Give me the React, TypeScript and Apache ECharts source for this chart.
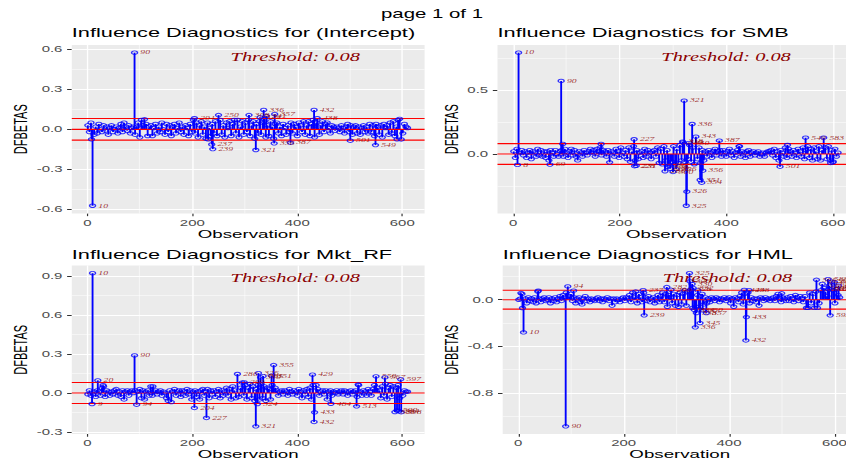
import React, { useEffect, useRef } from "react";
import * as echarts from "echarts";

// ---------------- data ----------------
const N_OBS = 612;
const BASE_START = 1;
const BASE_STEP = 3;

const coefNames = ["(Intercept)", "SMB", "Mkt_RF", "HML"];

// DFBETAS read at observations 1, 4, 7, ..., 610
const interceptBase = [
  0.03, -0.02, 0.05, 0.01, -0.04, 0.02, -0.03, 0.04, 0.0, -0.02,
  0.03, -0.01, 0.02, -0.04, 0.01, 0.03, -0.02, 0.0, 0.02, -0.03,
  0.01, 0.04, -0.02, 0.05, 0.02, -0.01, 0.03, -0.03, 0.01, 0.02,
  -0.04, 0.02, 0.05, -0.06, 0.07, 0.03, -0.02, 0.04, -0.05, 0.02,
  0.03, -0.05, 0.01, 0.04, -0.03, 0.02, -0.02, 0.05, 0.0, -0.04,
  0.04, -0.02, 0.03, -0.05, 0.02, 0.04, -0.03, 0.01, 0.05, -0.02,
  0.02, -0.04, 0.03, 0.01, -0.05, 0.04, -0.02, 0.07, -0.03, 0.05,
  -0.06, 0.03, 0.06, -0.04, 0.02, -0.07, 0.05, 0.01, -0.05, 0.04,
  -0.03, 0.06, -0.05, 0.02, 0.07, -0.04, 0.03, -0.06, 0.05, 0.01,
  0.06, -0.05, 0.04, 0.07, -0.03, 0.05, -0.06, 0.02, 0.06, -0.04,
  0.05, -0.02, 0.07, -0.05, 0.03, 0.06, -0.07, 0.04, -0.03, 0.06,
  -0.04, 0.05, 0.08, -0.06, 0.03, -0.05, 0.06, 0.02, -0.07, 0.04,
  0.05, -0.03, 0.02, -0.05, 0.04, 0.01, -0.04, 0.03, -0.02, 0.05,
  -0.03, 0.04, 0.02, -0.05, 0.05, 0.03, -0.02, 0.06, -0.04, 0.03,
  0.06, -0.05, 0.04, 0.07, -0.03, 0.05, 0.02, -0.04, 0.03, 0.06,
  -0.02, 0.04, 0.05, 0.01, -0.03, 0.03, 0.02, -0.01, 0.02, 0.01,
  -0.02, 0.03, 0.01, -0.03, 0.02, 0.04, -0.02, 0.03, -0.04, 0.02,
  0.03, -0.03, 0.02, -0.04, 0.01, 0.03, -0.02, 0.02, -0.03, 0.04,
  -0.02, 0.03, -0.05, 0.04, 0.02, -0.04, 0.03, -0.06, 0.04, 0.01,
  0.03, -0.04, 0.05, -0.03, 0.06, -0.05, 0.02, 0.07, -0.04, 0.05,
  -0.03, 0.04, 0.02, 0.01,
];
const interceptOutliers = [
  [8, -0.075], [10, -0.573], [90, 0.575], [109, 0.075], [204, 0.083],
  [230, -0.075], [237, -0.113], [239, -0.148], [250, 0.107], [286, 0.07],
  [308, 0.107], [321, -0.155], [329, 0.09], [336, 0.145], [341, 0.1],
  [356, -0.105], [357, 0.114], [387, -0.1], [432, 0.145], [433, -0.06],
  [438, 0.083], [501, -0.085], [549, -0.118], [590, -0.075], [595, 0.078],
  [598, -0.076],
];

const smbBase = [
  0.02, -0.03, 0.04, -0.02, 0.01, 0.03, -0.01, 0.02, -0.03, 0.01,
  0.03, -0.04, 0.02, 0.01, -0.02, 0.04, -0.01, 0.03, -0.02, 0.02,
  -0.03, 0.02, -0.05, 0.03, 0.01, -0.02, 0.03, 0.0, -0.02, 0.02,
  0.03, -0.02, 0.04, 0.01, -0.03, 0.02, 0.04, -0.01, 0.03, -0.02,
  -0.05, 0.02, 0.01, -0.02, 0.03, 0.01, -0.01, 0.02, 0.04, 0.01,
  0.03, -0.02, 0.04, 0.02, 0.05, -0.01, 0.03, 0.02, -0.02, 0.03,
  -0.06, 0.02, 0.01, -0.02, 0.04, 0.02, -0.03, 0.05, 0.01, -0.02,
  0.03, -0.04, 0.05, -0.06, 0.02, 0.06, -0.05, 0.03, -0.04, 0.01,
  0.02, -0.03, 0.04, -0.02, 0.03, 0.01, -0.04, 0.02, 0.03, -0.02,
  0.05, -0.07, 0.04, -0.08, 0.06, -0.05, 0.03, -0.09, 0.05, -0.06,
  0.06, -0.08, 0.04, -0.07, 0.07, -0.05, 0.09, -0.06, 0.08, -0.04,
  0.07, -0.06, 0.05, -0.08, 0.06, -0.04, 0.05, -0.07, 0.03, -0.05,
  0.02, -0.02, 0.03, 0.01, -0.03, 0.02, 0.04, -0.01, 0.02, 0.03,
  -0.02, 0.03, 0.01, -0.02, 0.02, 0.04, -0.01, 0.02, -0.03, 0.01,
  0.03, 0.06, -0.02, 0.02, 0.01, -0.03, 0.02, 0.03, -0.02, 0.01,
  0.02, -0.01, 0.01, 0.02, -0.02, 0.0, 0.01, -0.02, 0.01, 0.02,
  0.02, 0.03, -0.01, 0.04, -0.03, 0.02, -0.05, 0.03, 0.01, -0.02,
  0.05, -0.03, 0.04, 0.02, -0.02, 0.03, 0.01, -0.03, 0.04, 0.02,
  -0.02, 0.05, -0.04, 0.03, 0.06, -0.03, 0.04, -0.05, 0.05, 0.02,
  -0.04, 0.06, -0.05, 0.03, -0.06, 0.05, -0.04, 0.06, -0.05, 0.03,
  -0.06, 0.04, -0.02, 0.01,
];
const smbOutliers = [
  [8, -0.085], [10, 0.791], [69, -0.083], [90, 0.57], [93, 0.078],
  [165, 0.078], [181, -0.065], [227, 0.115], [228, -0.095], [231, -0.092],
  [285, -0.135], [290, -0.1], [295, -0.115], [300, -0.14], [306, -0.118],
  [318, 0.096], [321, 0.416], [325, -0.404], [326, -0.294], [330, 0.085],
  [336, 0.234], [343, 0.135], [351, -0.203], [354, -0.224], [356, -0.13],
  [387, 0.104], [425, 0.06], [501, -0.099], [515, 0.07], [549, 0.127],
  [583, 0.127], [596, -0.07], [600, -0.065],
];

const mktBase = [
  -0.01, 0.02, -0.02, 0.03, 0.01, -0.03, 0.02, 0.01, -0.02, 0.04,
  0.05, -0.03, 0.02, 0.01, -0.02, 0.01, -0.01, 0.02, 0.03, -0.02,
  0.01, -0.03, 0.02, -0.05, 0.01, 0.02, -0.02, 0.01, 0.02, 0.0,
  0.02, -0.03, 0.01, 0.03, -0.04, 0.02, -0.05, 0.01, 0.02, -0.02,
  0.05, -0.02, 0.01, 0.02, -0.01, 0.01, 0.02, -0.02, 0.01, 0.0,
  -0.04, -0.06, 0.02, -0.07, 0.01, 0.03, -0.02, 0.01, 0.02, -0.03,
  0.02, 0.01, -0.02, 0.03, -0.01, 0.02, -0.05, 0.01, 0.02, -0.03,
  0.01, -0.05, 0.02, 0.03, -0.02, 0.01, 0.03, -0.04, 0.02, -0.01,
  0.02, -0.03, 0.01, 0.03, -0.04, 0.02, -0.02, 0.01, 0.04, -0.02,
  0.03, -0.05, 0.05, 0.02, -0.04, 0.06, -0.03, 0.04, 0.08, -0.02,
  0.06, -0.05, 0.04, 0.07, -0.04, 0.05, -0.06, 0.03, 0.06, -0.05,
  0.07, -0.04, 0.05, -0.06, 0.04, 0.03, -0.05, 0.06, -0.03, 0.04,
  0.02, -0.02, 0.01, 0.02, -0.01, 0.02, 0.01, -0.02, 0.03, 0.01,
  -0.01, 0.02, 0.01, -0.02, 0.03, 0.01, -0.04, 0.02, -0.01, 0.03,
  -0.03, 0.04, -0.05, 0.06, 0.02, -0.04, 0.03, -0.02, 0.01, 0.02,
  -0.01, 0.02, -0.05, 0.01, 0.02, -0.02, 0.01, 0.0, 0.02, -0.01,
  0.01, 0.02, -0.01, 0.02, 0.01, -0.02, 0.01, 0.02, -0.01, 0.01,
  0.02, -0.03, 0.06, 0.01, -0.02, 0.02, 0.01, -0.02, 0.03, 0.01,
  -0.02, 0.03, 0.06, -0.03, 0.04, 0.02, -0.04, 0.05, -0.02, 0.07,
  -0.05, 0.04, 0.06, -0.03, 0.05, -0.06, 0.04, 0.06, -0.04, 0.03,
  -0.02, 0.02, 0.01, 0.01,
];
const mktOutliers = [
  [9, -0.085], [10, 0.923], [20, 0.097], [30, 0.06], [90, 0.289],
  [94, -0.09], [125, 0.05], [204, -0.115], [227, -0.192], [286, 0.146],
  [299, 0.081], [321, -0.257], [324, -0.085], [326, 0.153], [330, 0.12],
  [335, 0.13], [351, 0.133], [355, 0.215], [429, 0.141], [432, -0.223],
  [433, -0.149], [436, 0.06], [464, -0.083], [513, -0.103], [516, 0.065],
  [550, 0.128], [567, 0.12], [586, -0.147], [590, -0.135], [594, -0.14],
  [597, 0.105], [598, -0.148],
];

const hmlBase = [
  0.0, 0.01, 0.05, -0.02, 0.01, -0.03, 0.02, -0.01, 0.01, -0.02,
  0.02, -0.03, 0.07, 0.01, -0.02, 0.01, 0.02, -0.01, 0.0, 0.02,
  -0.03, 0.01, -0.01, 0.02, -0.02, 0.01, 0.03, -0.01, 0.04, 0.02,
  0.06, -0.02, 0.03, 0.05, -0.01, 0.02, -0.03, 0.01, 0.02, -0.02,
  -0.04, 0.01, 0.03, -0.01, 0.01, -0.02, 0.01, 0.0, -0.01, 0.01,
  0.02, -0.01, 0.01, -0.02, 0.01, 0.0, 0.02, -0.01, 0.01, -0.05,
  0.01, -0.02, 0.01, 0.0, -0.02, 0.01, 0.02, -0.01, 0.02, 0.01,
  0.04, -0.02, 0.06, 0.02, 0.07, -0.03, 0.05, 0.02, -0.02, 0.06,
  0.02, -0.01, 0.03, -0.02, 0.01, 0.02, -0.03, 0.01, 0.04, -0.02,
  0.03, 0.06, -0.02, 0.05, -0.06, 0.04, 0.02, -0.03, 0.05, -0.05,
  0.04, -0.06, 0.06, -0.04, 0.05, 0.08, -0.05, 0.07, -0.06, 0.09,
  -0.07, 0.05, -0.06, 0.04, -0.08, 0.03, 0.05, -0.04, 0.02, -0.03,
  0.01, -0.02, 0.02, 0.01, -0.01, 0.02, 0.01, -0.02, 0.01, 0.0,
  0.02, -0.01, 0.01, 0.02, -0.03, 0.01, -0.06, 0.02, 0.01, -0.02,
  0.03, 0.06, -0.04, 0.05, 0.02, 0.06, -0.03, 0.02, -0.01, 0.01,
  -0.02, 0.01, -0.05, 0.02, 0.01, -0.01, 0.02, 0.0, 0.01, -0.01,
  0.01, 0.02, -0.01, 0.03, 0.05, 0.01, -0.02, 0.02, 0.01, -0.01,
  0.02, -0.01, 0.03, 0.01, -0.02, 0.04, 0.02, -0.01, 0.03, 0.01,
  -0.02, 0.03, -0.07, 0.04, 0.06, -0.03, 0.05, -0.07, 0.07, 0.04,
  -0.03, 0.08, 0.05, -0.04, 0.07, 0.03, 0.09, -0.02, 0.06, 0.08,
  -0.03, 0.07, 0.04, 0.02,
];
const hmlOutliers = [
  [5, 0.057], [8, -0.071], [10, -0.28], [38, 0.077], [90, -1.086],
  [94, 0.114], [105, 0.078], [237, 0.082], [239, -0.134], [282, 0.109],
  [290, 0.085], [325, 0.228], [326, 0.157], [330, 0.135], [332, 0.1],
  [334, -0.086], [336, -0.237], [338, -0.114], [341, 0.08], [345, -0.2],
  [350, -0.09], [357, -0.114], [429, 0.084], [432, -0.349], [433, -0.149],
  [438, 0.082], [500, 0.055], [550, -0.07], [566, 0.171], [568, -0.07],
  [577, 0.135], [580, 0.1], [588, 0.177], [590, 0.12], [592, -0.134],
  [595, 0.155], [600, 0.15], [604, 0.09], [608, 0.12],
];

const xTicks = [0, 200, 400, 600];
const interceptYTicks = [-0.6, -0.3, 0, 0.3, 0.6];
const smbYTicks = [-0.5, 0, 0.5];
const mktYTicks = [-0.3, 0, 0.3, 0.6, 0.9];
const hmlYTicks = [-1.2, -0.8, -0.4, 0, 0.4];

const panelData = [
  { name: coefNames[0], base: interceptBase, outliers: interceptOutliers, yTicks: interceptYTicks },
  { name: coefNames[1], base: smbBase, outliers: smbOutliers, yTicks: smbYTicks },
  { name: coefNames[2], base: mktBase, outliers: mktOutliers, yTicks: mktYTicks },
  { name: coefNames[3], base: hmlBase, outliers: hmlOutliers, yTicks: hmlYTicks },
];

// ---------------- layout & style ----------------
const SX = 1.7; // the reference is stretched horizontally
const CANVAS_W = 506;
const CANVAS_H = 459;
const ox = (v: number) => v / SX;

const layout = [
  { left: ox(71.8), right: ox(424.6), top: 45, bottom: 213.4, titleY: 33, yNameGap: 24 },
  { left: ox(497.5), right: ox(855.4), top: 45, bottom: 213.4, titleY: 33, yNameGap: 21 },
  { left: ox(71.8), right: ox(424.6), top: 265.5, bottom: 434, titleY: 255, yNameGap: 24 },
  { left: ox(502.7), right: ox(856.8), top: 265.5, bottom: 434, titleY: 255, yNameGap: 23 },
];

const SANS = '"Liberation Sans", Arial, sans-serif';
const SERIF = '"Liberation Serif", "DejaVu Serif", serif';
const PANEL_BG = "#EBEBEB";
const BLUE = "#0000FF";
const RED = "#FF0000";
const DARKRED = "#8B0000";

function buildPoints(base: number[], outliers: number[][]) {
  const m = new Map<number, number>();
  base.forEach((v, i) => m.set(BASE_START + i * BASE_STEP, v));
  outliers.forEach(([o, v]) => m.set(o, v));
  return Array.from(m.entries()).sort((a, b) => a[0] - b[0]);
}

function minorOf(ticks: number[]) {
  const step = ticks[1] - ticks[0];
  const res: number[] = [ticks[0] - step / 2];
  for (let i = 0; i < ticks.length; i++) res.push(ticks[i] + step / 2);
  return res.map((v) => Math.round(v * 1e6) / 1e6);
}

function buildOption() {
  const threshold = 2 / Math.sqrt(N_OBS);
  const xPad = 0.05 * (N_OBS - 1);
  const xMin = 1 - xPad;
  const xMax = N_OBS + xPad;

  const grid: any[] = [];
  const xAxis: any[] = [];
  const yAxis: any[] = [];
  const series: any[] = [];
  const graphic: any[] = [
    {
      type: "text",
      x: ox(432),
      y: 14,
      z: 10,
      style: {
        text: "page 1 of 1",
        fill: "#000",
        fontSize: 12,
        fontFamily: SANS,
        align: "center",
        verticalAlign: "middle",
        textAlign: "center",
        textVerticalAlign: "middle",
      },
    },
  ];

  panelData.forEach((p, i) => {
    const L = layout[i];
    const pts = buildPoints(p.base, p.outliers);
    const vals = pts.map((d) => d[1]).concat([0]);
    const lo = Math.min(...vals);
    const hi = Math.max(...vals);
    const pad = 0.05 * (hi - lo);
    const yMin = lo - pad;
    const yMax = hi + pad;

    const yMajor = p.yTicks.filter((v) => v >= yMin && v <= yMax);
    const yMinor = minorOf(p.yTicks).filter((v) => v >= yMin && v <= yMax);
    const xMajor = xTicks.filter((v) => v >= xMin && v <= xMax);
    const xMinor = minorOf(xTicks).filter((v) => v >= xMin && v <= xMax);

    const gridLines = [
      ...yMinor.map((v) => ({ yAxis: v, lineStyle: { width: 0.6 } })),
      ...xMinor.map((v) => ({ xAxis: v, lineStyle: { width: 0.4 } })),
      ...yMajor.map((v) => ({ yAxis: v, lineStyle: { width: 1.2 } })),
      ...xMajor.map((v) => ({ xAxis: v, lineStyle: { width: 0.8 } })),
    ];

    grid.push({
      left: L.left,
      top: L.top,
      width: L.right - L.left,
      height: L.bottom - L.top,
      show: true,
      backgroundColor: PANEL_BG,
      borderWidth: 0,
      containLabel: false,
      outerBoundsMode: "none",
    });

    xAxis.push({
      type: "value",
      gridIndex: i,
      min: xMin,
      max: xMax,
      axisLine: { show: false, onZero: false },
      splitLine: { show: false },
      minorSplitLine: { show: false },
      axisTick: { show: true, customValues: xMajor, length: 2.75, lineStyle: { color: "#333333", width: 0.7 } },
      axisLabel: {
        customValues: xMajor,
        margin: 5,
        fontSize: 8.8,
        color: "#4D4D4D",
        fontFamily: SANS,
        formatter: (v: number) => String(v),
      },
      name: "Observation",
      nameLocation: "middle",
      nameGap: 12.5,
      nameTextStyle: { fontSize: 11, color: "#000", fontFamily: SANS },
    });

    yAxis.push({
      type: "value",
      gridIndex: i,
      min: yMin,
      max: yMax,
      axisLine: { show: false, onZero: false },
      splitLine: { show: false },
      minorSplitLine: { show: false },
      axisTick: { show: true, customValues: yMajor, length: 2.75, lineStyle: { color: "#333333", width: 1 } },
      axisLabel: {
        customValues: yMajor,
        margin: 5.5,
        fontSize: 8.8,
        color: "#4D4D4D",
        fontFamily: SANS,
        formatter: (v: number) => v.toFixed(1),
      },
      name: "DFBETAS",
      nameLocation: "middle",
      nameGap: L.yNameGap,
      nameTextStyle: { fontSize: 11, color: "#000", fontFamily: SANS },
    });

    // stems (linerange from 0), with the panel grid lines as white mark lines beneath
    series.push({
      type: "bar",
      xAxisIndex: i,
      yAxisIndex: i,
      data: pts.map(([o, v]) => [o, v]),
      barWidth: 1.1,
      itemStyle: { color: BLUE },
      silent: true,
      z: 2,
      markLine: {
        silent: true,
        z: 1,
        symbol: ["none", "none"],
        label: { show: false },
        lineStyle: { color: "#FFFFFF", type: "solid" },
        emphasis: { disabled: true },
        data: gridLines,
      },
    });

    // reference lines at 0 and +/- threshold
    [0, threshold, -threshold].forEach((h) => {
      series.push({
        type: "line",
        xAxisIndex: i,
        yAxisIndex: i,
        data: [
          [xMin, h],
          [xMax, h],
        ],
        symbol: "none",
        showSymbol: false,
        silent: true,
        z: 3,
        lineStyle: { color: RED, width: 1.1, type: "solid" },
        itemStyle: { color: RED },
        emphasis: { disabled: true },
      });
    });

    // points, with labels for influential observations
    series.push({
      type: "scatter",
      xAxisIndex: i,
      yAxisIndex: i,
      symbol: "circle",
      symbolSize: 3.5,
      itemStyle: { color: "rgba(0,0,0,0)", borderColor: BLUE, borderWidth: 0.9 },
      silent: true,
      z: 4,
      label: {
        show: false,
        position: "right",
        distance: 1.2,
        fontSize: 5.7,
        fontStyle: "italic",
        fontFamily: SERIF,
        color: DARKRED,
        formatter: (prm: any) => String(prm.value[0]),
      },
      data: pts.map(([o, v]) =>
        Math.abs(v) > threshold ? { value: [o, v], label: { show: true } } : { value: [o, v] }
      ),
    });

    graphic.push({
      type: "text",
      x: L.left,
      y: L.titleY,
      z: 10,
      style: {
        text: "Influence Diagnostics for " + p.name,
        fill: "#000",
        fontSize: 12.8,
        fontFamily: SANS,
        align: "left",
        verticalAlign: "middle",
        textAlign: "left",
        textVerticalAlign: "middle",
      },
    });

    graphic.push({
      type: "text",
      x: L.right - 38,
      y: L.top + 12.3,
      z: 10,
      style: {
        text: "Threshold: " + threshold.toFixed(2),
        fill: DARKRED,
        fontSize: 12,
        fontStyle: "italic",
        fontFamily: SERIF,
        align: "right",
        verticalAlign: "middle",
        textAlign: "right",
        textVerticalAlign: "middle",
      },
    });
  });

  return {
    animation: false,
    backgroundColor: "#FFFFFF",
    grid,
    xAxis,
    yAxis,
    series,
    graphic,
  };
}

export default function App() {
  const ref = useRef<HTMLDivElement>(null);
  useEffect(() => {
    if (!ref.current) return;
    const chart = echarts.init(ref.current, null, { renderer: "svg" });
    chart.setOption(buildOption() as any);
    return () => chart.dispose();
  }, []);
  return (
    <div
      style={{
        position: "fixed",
        left: 0,
        top: 0,
        width: 846,
        height: 459,
        overflow: "hidden",
        background: "#fff",
      }}
    >
      <div
        ref={ref}
        style={{
          width: CANVAS_W,
          height: CANVAS_H,
          transform: `scaleX(${SX})`,
          transformOrigin: "0 0",
        }}
      />
    </div>
  );
}
